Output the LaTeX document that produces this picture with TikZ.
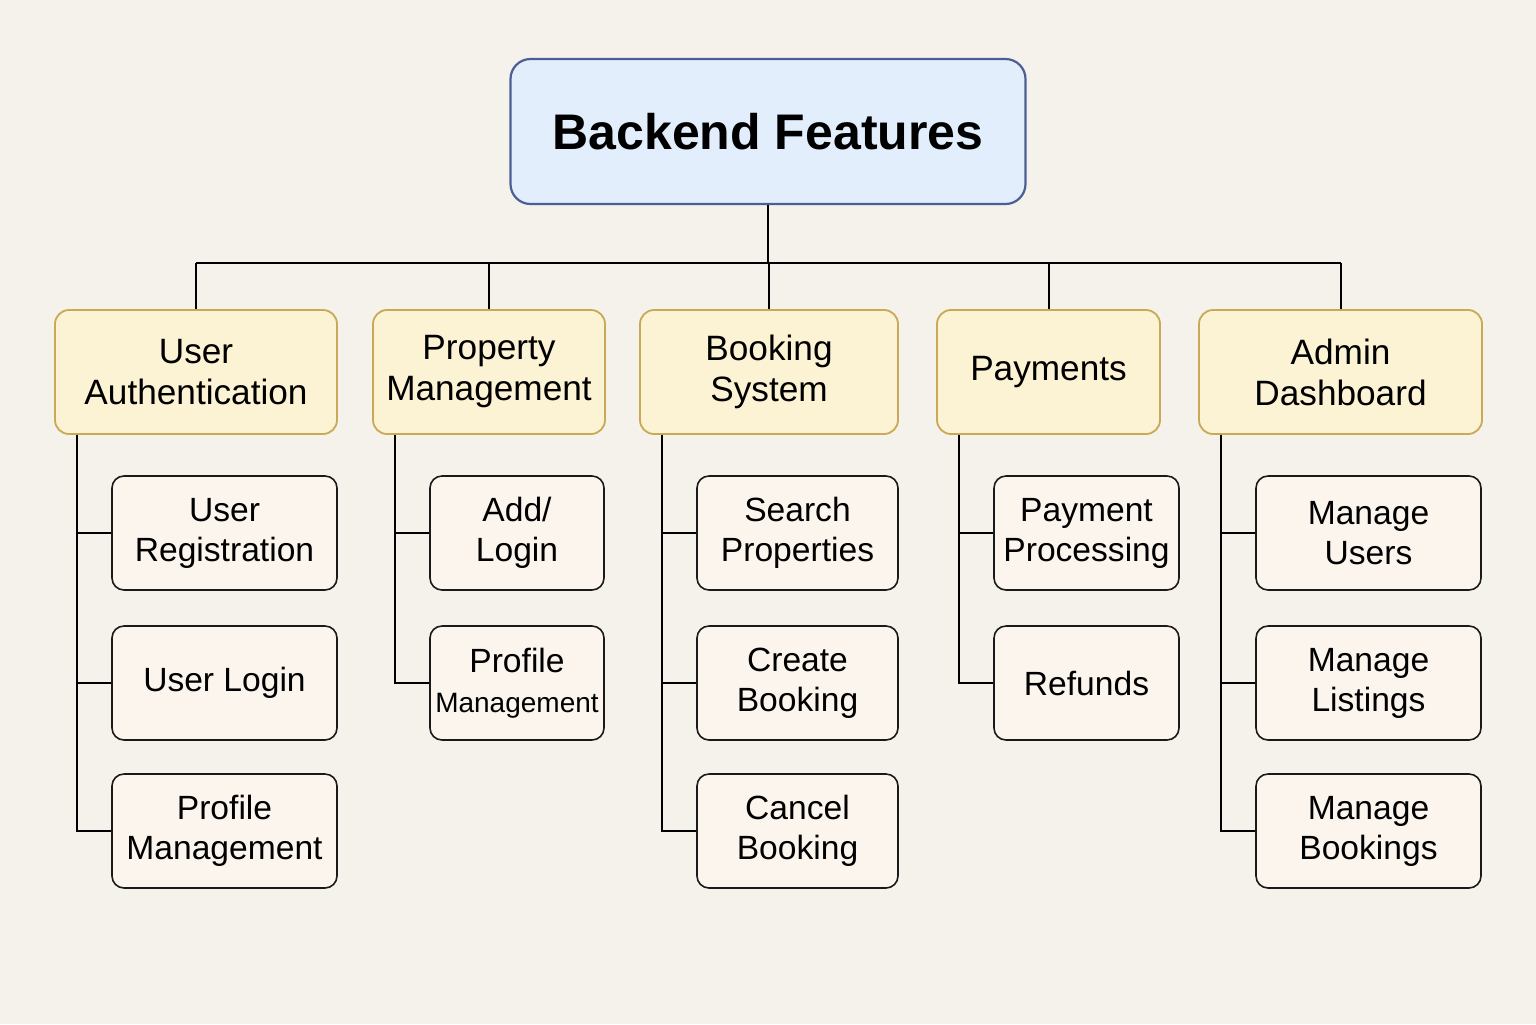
\documentclass[tikz,border=0pt]{standalone}
\usepackage{fontspec}
\setmainfont{Liberation Sans}
\definecolor{bgc}{HTML}{F5F2EC}
\definecolor{rootfill}{HTML}{E2EEFC}
\definecolor{rootdraw}{HTML}{4C5F94}
\definecolor{catfill}{HTML}{FCF2D4}
\definecolor{catdraw}{HTML}{C9A955}
\definecolor{subfill}{HTML}{FBF5EE}
\definecolor{subdraw}{HTML}{1A1A1A}
\begin{document}
\begin{tikzpicture}[x=0.5pt,y=-0.5pt,
  rootbox/.style={draw=rootdraw,fill=rootfill,line width=1.1pt,rounded corners=10pt,
    minimum width=257.5pt,minimum height=72.5pt,inner sep=0pt,align=center,
    font=\fontsize{25}{30}\selectfont\bfseries},
  catbox/.style={draw=catdraw,fill=catfill,line width=0.9pt,rounded corners=7pt,
    minimum height=62pt,inner sep=0pt,align=center,
    font=\fontsize{17.6}{20.5}\selectfont},
  subbox/.style={draw=subdraw,fill=subfill,line width=0.8pt,rounded corners=6pt,
    minimum height=57pt,inner sep=0pt,align=center,
    font=\fontsize{16.8}{20}\selectfont},
  link/.style={draw=black,line width=1pt}]
\fill[bgc] (0,0) rectangle (1536,1024);
\useasboundingbox (0,0) rectangle (1536,1024);

\node[rootbox] (root) at (768,131.5) {Backend Features};

\node[catbox,minimum width=141pt] (c1) at (196,372) {User\\Authentication};
\node[catbox,minimum width=116pt] (c2) at (489,372) {Property\\Management};
\node[catbox,minimum width=129pt] (c3) at (769,372) {Booking\\System};
\node[catbox,minimum width=111.5pt] (c4) at (1048.5,372) {Payments};
\node[catbox,minimum width=141.5pt] (c5) at (1340.5,372) {Admin\\Dashboard};

\node[subbox,minimum width=112.5pt] (s11) at (224.5,533) {User\\Registration};
\node[subbox,minimum width=112.5pt] (s12) at (224.5,683) {User Login};
\node[subbox,minimum width=112.5pt] (s13) at (224.5,831) {Profile\\Management};

\node[subbox,minimum width=87pt] (s21) at (517,533) {Add/\\Login};
\node[subbox,minimum width=87pt] (s22) at (517,683) {Profile\\{\fontsize{14}{20}\selectfont Management}};

\node[subbox,minimum width=100.5pt] (s31) at (797.5,533) {Search\\Properties};
\node[subbox,minimum width=100.5pt] (s32) at (797.5,683) {Create\\Booking};
\node[subbox,minimum width=100.5pt] (s33) at (797.5,831) {Cancel\\Booking};

\node[subbox,minimum width=92.5pt] (s41) at (1086.5,533) {Payment\\Processing};
\node[subbox,minimum width=92.5pt] (s42) at (1086.5,683) {Refunds};

\node[subbox,minimum width=112.5pt] (s51) at (1368.5,533) {Manage\\Users};
\node[subbox,minimum width=112.5pt] (s52) at (1368.5,683) {Manage\\Listings};
\node[subbox,minimum width=112.5pt] (s53) at (1368.5,831) {Manage\\Bookings};

% top bus
\coordinate (bus) at (768,263);
\draw[link] (root.south) -- (root.south |- bus);
\draw[link] (c1.north |- bus) -- (c5.north |- bus);
\foreach \c in {c1,c2,c3,c4,c5}
  \draw[link] (\c.north |- bus) -- (\c.north);

% trunks
\foreach \c/\s in {c1/s11,c1/s12,c1/s13,c2/s21,c2/s22,c3/s31,c3/s32,c3/s33,c4/s41,c4/s42,c5/s51,c5/s52,c5/s53}
  \draw[link] ([xshift=11.5pt]\c.south west) |- (\s.west);
\end{tikzpicture}
\end{document}
